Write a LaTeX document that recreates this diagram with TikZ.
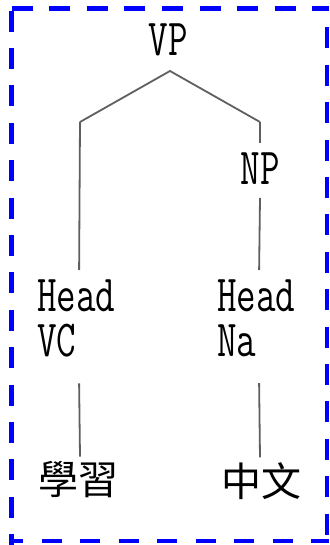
\documentclass[tikz,border=0pt]{standalone}
\usepackage{fontspec}
\newfontfamily\cjk{Noto Sans CJK TC}
\newcommand{\treefontx}{\ttfamily\addfontfeatures{FakeBold=1.2}}
\usetikzlibrary{calc}
\tikzset{
  lat/.style={inner sep=0pt, outer sep=0pt, xscale=0.73, font=\fontsize{52}{45}\selectfont\treefontx, align=left},
  han/.style={inner sep=0pt, outer sep=0pt, font=\fontsize{40}{44}\selectfont\cjk},
  edge/.style={draw={rgb,255:red,95;green,95;blue,95}, line width=1.8pt},
  frame/.style={draw=blue, line width=4.2pt}
}
\begin{document}
\begin{tikzpicture}[x=1pt,y=-1pt]
\useasboundingbox (0,0) rectangle (329,545);
% frame
\draw[frame, dash pattern=on 21pt off 16.6pt, dash phase=35.5pt] (9.5,8.5) -- (329,8.5);
\draw[frame, dash pattern=on 21pt off 16.4pt] (11.5,10.6) -- (11.5,545);
\draw[frame, dash pattern=on 20pt off 18.5pt, dash phase=6.5pt] (9.5,541) -- (329,541);
\draw[frame, dash pattern=on 21pt off 16.4pt, dash phase=16.5pt] (327,6.5) -- (327,539);
% nodes
\node[lat, anchor=base] (vp) at (168,56) {VP};
\node[lat, anchor=base] (np) at (260,185) {NP};
\node[lat, anchor=north west] (hv) at (37,280) {Head\\VC};
\node[lat, anchor=north west] (hn) at (217,280) {Head\\Na};
\node[han] (xx) at (78,480) {學習};
\node[han] (zw) at (261,481) {中文};
\coordinate (lb) at (80,122);
\coordinate (rb) at (260,122);
% edges
\draw[edge] (lb) -- ($(vp.base)+(2,15)$) -- (rb);
\draw[edge] (lb) -- ($(hv.north)+(3,-10)$);
\draw[edge] (rb) -- ($(np.base)+(0,-42)$);
\draw[edge] ($(np.base)+(0,13)$) -- ($(hn.north)+(3,-10)$);
\draw[edge] ($(hv.south)+(3,26)$) -- ($(xx.north)+(2,-5)$);
\draw[edge] ($(hn.south)+(3,26)$) -- ($(zw.north)+(-1,-5)$);
\end{tikzpicture}
\end{document}
